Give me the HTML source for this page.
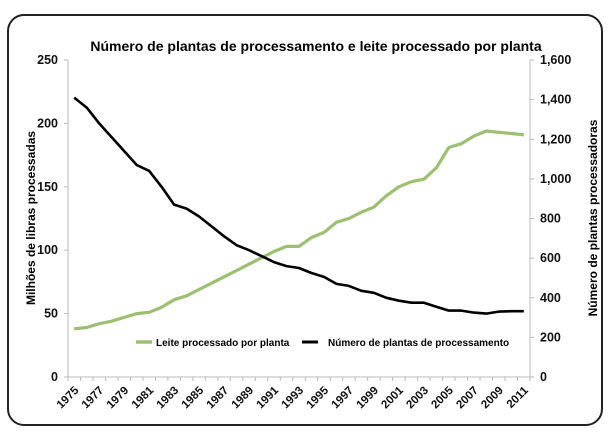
<!DOCTYPE html>
<html><head><meta charset="utf-8"><style>
body{margin:0;background:#fff;}
svg{display:block;font-family:"Liberation Sans",Arial,sans-serif;font-weight:bold;}
</style></head><body>
<svg id="s" width="613" height="432" viewBox="0 0 613 432">
<rect x="8" y="15" width="594" height="410" rx="16" fill="#fff" stroke="#222" stroke-width="2"/>
<text x="316" y="51" text-anchor="middle" font-size="14">Número de plantas de processamento e leite processado por planta</text>
<g id="ax" stroke="#bbb" stroke-width="1"></g>
<g id="lab" font-size="12.5" fill="#111"></g>
<text transform="translate(35,218) rotate(-90)" text-anchor="middle" font-size="12">Milhões de libras processadas</text>
<text transform="translate(597,218) rotate(-90)" text-anchor="middle" font-size="12">Número de plantas processadoras</text>
<polyline id="g" fill="none" stroke="#9dbf72" stroke-width="3.2" stroke-linejoin="round"/>
<polyline id="k" fill="none" stroke="#000" stroke-width="2.6" stroke-linejoin="round"/>
<line x1="136" y1="342" x2="152" y2="342" stroke="#9dbf72" stroke-width="3.5"/>
<text x="156" y="346" font-size="10">Leite processado por planta</text>
<line x1="302" y1="342" x2="318" y2="342" stroke="#000" stroke-width="3"/>
<text x="328" y="346" font-size="10">Número de plantas de processamento</text>
</svg>
<script>
var L=68,R=530,T=60,B=377,n=37,dx=(R-L)/n;
var ns="http://www.w3.org/2000/svg";
function el(p,t,a,txt){var e=document.createElementNS(ns,t);for(var k in a)e.setAttribute(k,a[k]);if(txt!=null)e.textContent=txt;document.getElementById(p).appendChild(e);}
el("ax","line",{x1:L,y1:T,x2:L,y2:B});el("ax","line",{x1:R,y1:T,x2:R,y2:B});el("ax","line",{x1:L,y1:B,x2:R,y2:B});
for(var i=0;i<=5;i++){var y=B-(B-T)*i/5;el("ax","line",{x1:L-4,y1:y,x2:L,y2:y});el("lab","text",{x:L-10,y:y+4,"text-anchor":"end"},String(i*50));}
var rl=["0","200","400","600","800","1,000","1,200","1,400","1,600"];
for(var i=0;i<=8;i++){var y=B-(B-T)*i/8;el("ax","line",{x1:R,y1:y,x2:R+4,y2:y});el("lab","text",{x:R+10,y:y+4},rl[i]);}
for(var i=0;i<=n;i++){var x=L+dx*i;el("ax","line",{x1:x,y1:B,x2:x,y2:B+4});}
for(var i=0;i<n;i+=2){var x=L+dx*(i+0.5);el("lab","text",{transform:"translate("+(x+5)+","+(B+14)+") rotate(-45)","text-anchor":"end","font-size":"11.5"},String(1975+i));}
var k=[1410,1360,1280,1210,1140,1070,1040,960,870,850,810,760,710,665,640,610,580,560,550,525,505,470,460,435,425,400,385,375,375,355,335,335,325,320,330,332,332];
var g=[38,39,42,44,47,50,51,55,61,64,69,74,79,84,89,94,99,103,103,110,114,122,125,130,134,143,150,154,156,165,181,184,190,194,193,192,191];
var pk=[],pg=[];
for(var i=0;i<n;i++){var x=L+dx*(i+0.5);pk.push(x.toFixed(1)+","+(B-(B-T)*k[i]/1600).toFixed(1));pg.push(x.toFixed(1)+","+(B-(B-T)*g[i]/250).toFixed(1));}
document.getElementById("k").setAttribute("points",pk.join(" "));
document.getElementById("g").setAttribute("points",pg.join(" "));
</script>
</body></html>
